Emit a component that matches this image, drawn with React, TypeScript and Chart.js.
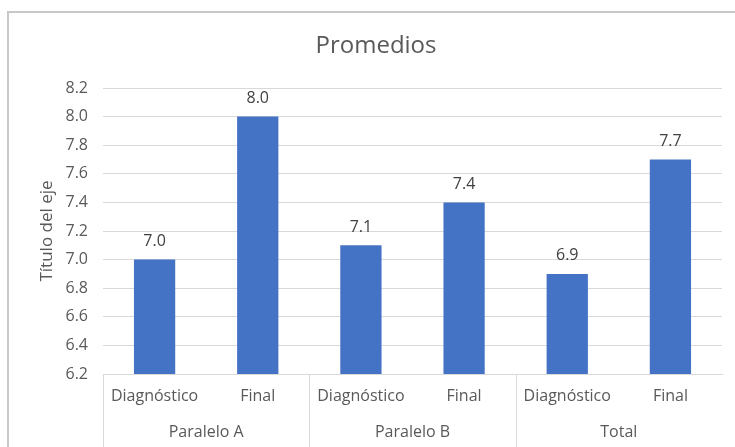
import React, { useEffect, useRef } from "react";
import { Chart, registerables } from "chart.js";

Chart.register(...registerables);

const chartTitle = "Promedios";
const yAxisTitle = "Título del eje";
const groups = ["Paralelo A", "Paralelo B", "Total"];
const categories = ["Diagnóstico", "Final", "Diagnóstico", "Final", "Diagnóstico", "Final"];
const values = [7.0, 8.0, 7.1, 7.4, 6.9, 7.7];
const yMin = 6.2;
const yMax = 8.2;
const yStep = 0.2;

const FONT = "'Open Sans', 'Noto Sans', sans-serif";
const GRID = "#d9d9d9";
const TEXT = "#595959";

const decorPlugin = {
  id: "decor",
  beforeDraw(chart: any) {
    const ctx = chart.ctx;
    ctx.save();
    ctx.fillStyle = "#ffffff";
    ctx.fillRect(0, 0, chart.width, chart.height);
    ctx.restore();
  },
  afterDraw(chart: any) {
    const ctx = chart.ctx;
    const area = chart.chartArea;
    const xs = chart.scales.x;
    ctx.save();
    // outer frame
    ctx.strokeStyle = "#c8c8c8";
    ctx.lineWidth = 2;
    ctx.beginPath();
    ctx.moveTo(8, chart.height + 5);
    ctx.lineTo(8, 12);
    ctx.lineTo(chart.width + 5, 12);
    ctx.stroke();

    // title
    ctx.fillStyle = TEXT;
    ctx.font = `24px ${FONT}`;
    ctx.textAlign = "center";
    ctx.textBaseline = "middle";
    ctx.fillText(chartTitle, 376, 46);

    // y axis title
    ctx.save();
    ctx.translate(47, (area.top + area.bottom) / 2);
    ctx.rotate(-Math.PI / 2);
    ctx.font = `17px ${FONT}`;
    ctx.fillText(yAxisTitle, 0, 0);
    ctx.restore();

    // data labels
    const meta = chart.getDatasetMeta(0);
    ctx.fillStyle = "#404040";
    ctx.font = `16px ${FONT}`;
    meta.data.forEach((bar: any, i: number) => {
      ctx.fillText(values[i].toFixed(1), bar.x, bar.y - 18);
    });

    // group separators and labels
    const perGroup = categories.length / groups.length;
    const catW = (xs.right - xs.left) / categories.length;
    ctx.strokeStyle = GRID;
    ctx.lineWidth = 1;
    for (let g = 0; g < groups.length; g++) {
      const x0 = xs.left + g * perGroup * catW;
      ctx.beginPath();
      ctx.moveTo(Math.round(x0) + 0.5, area.bottom);
      ctx.lineTo(Math.round(x0) + 0.5, chart.height);
      ctx.stroke();
      ctx.fillStyle = TEXT;
      ctx.font = `16px ${FONT}`;
      ctx.fillText(groups[g], x0 + (perGroup * catW) / 2, 432);
    }
    ctx.restore();
  },
};

export default function App() {
  const canvasRef = useRef<HTMLCanvasElement | null>(null);

  useEffect(() => {
    if (!canvasRef.current) return;
    const chart = new Chart(canvasRef.current, {
      type: "bar",
      data: {
        labels: categories,
        datasets: [
          {
            data: values,
            backgroundColor: "#4472C4",
            categoryPercentage: 1,
            barPercentage: 0.4,
          },
        ],
      },
      options: {
        animation: false,
        responsive: true,
        maintainAspectRatio: false,
        layout: { padding: { left: 0, top: 88, right: 13, bottom: 0 } },
        plugins: {
          legend: { display: false },
          tooltip: { enabled: false },
          title: { display: false },
        },
        scales: {
          x: {
            afterFit: (s: any) => {
              s.height = 73;
            },
            grid: { display: false, drawTicks: false },
            border: { display: true, color: GRID },
            ticks: {
              color: TEXT,
              font: { family: FONT, size: 16 },
              padding: 13,
              maxRotation: 0,
              autoSkip: false,
            },
          },
          y: {
            min: yMin,
            max: yMax,
            afterFit: (s: any) => {
              s.width = 103;
            },
            grid: { color: GRID, drawTicks: false },
            border: { display: false },
            ticks: {
              stepSize: yStep,
              color: TEXT,
              font: { family: FONT, size: 16 },
              padding: 15,
              callback: (v: any) => Number(v).toFixed(1),
            },
          },
        },
      },
      plugins: [decorPlugin],
    });
    return () => chart.destroy();
  }, []);

  return (
    <div style={{ position: "fixed", left: 0, top: 0, width: 735, height: 447 }}>
      <canvas ref={canvasRef} />
    </div>
  );
}
